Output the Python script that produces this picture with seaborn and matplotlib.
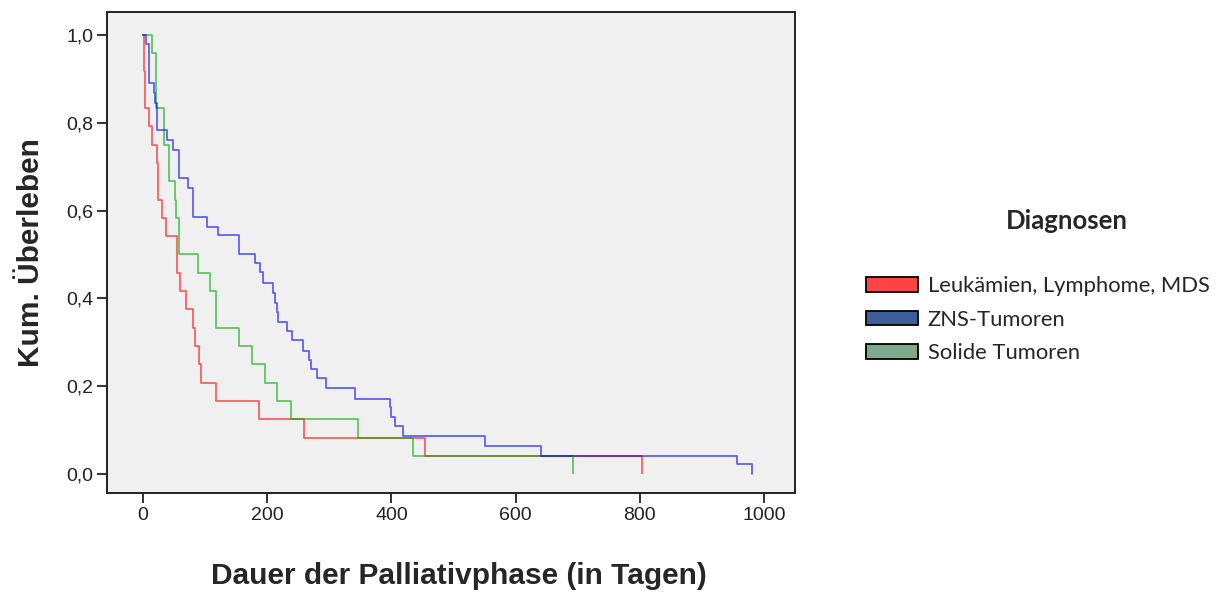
import matplotlib
matplotlib.use("Agg")
import matplotlib.pyplot as plt
from matplotlib.patches import Patch
from matplotlib.ticker import FuncFormatter
import seaborn as sns

# Kaplan-Meier steps (day, cumulative survival)
red_days = [0, 1, 2, 3, 4, 10, 14, 22, 24, 30, 37, 55, 60, 70, 80, 83, 90, 93, 118, 186, 260, 454, 803]
red_surv = [1.0, 0.958, 0.917, 0.875, 0.833, 0.792, 0.75, 0.708, 0.625, 0.583, 0.542, 0.458, 0.417,
            0.375, 0.333, 0.292, 0.25, 0.208, 0.167, 0.125, 0.083, 0.042, 0.042]

green_days = [0, 14, 21, 34, 42, 52, 53, 58, 88, 108, 117, 155, 176, 197, 216, 238, 347, 435, 692]
green_surv = [1.0, 0.958, 0.833, 0.75, 0.667, 0.625, 0.583, 0.5, 0.458, 0.417, 0.333, 0.292, 0.25,
              0.208, 0.167, 0.125, 0.083, 0.042, 0.042]

blue_days = [0, 5, 10, 17, 19, 22, 23, 39, 49, 58, 73, 81, 103, 120, 154, 180, 188, 194, 209, 212,
             215, 218, 232, 240, 258, 267, 270, 280, 295, 342, 398, 400, 406, 419, 550, 641, 956, 980]
blue_surv = [1.0, 0.979, 0.89, 0.868, 0.845, 0.812, 0.784, 0.761, 0.738, 0.674, 0.651, 0.586, 0.563,
             0.544, 0.501, 0.48, 0.459, 0.436, 0.412, 0.39, 0.369, 0.347, 0.326, 0.305, 0.281, 0.26,
             0.239, 0.218, 0.195, 0.172, 0.152, 0.131, 0.109, 0.087, 0.064, 0.041, 0.023, 0.0]

# censored observations (day, level)
red_cens = [(803, 0.042)]
green_cens = [(692, 0.042)]

groups = ["Leukämien, Lymphome, MDS", "ZNS-Tumoren", "Solide Tumoren"]
line_colors = {"red": "#ff0000", "blue": "#0000ff", "green": "#00aa00"}
patch_colors = ["#ff4444", "#3d5e99", "#80a98b"]

sns.set_style("white")
plt.rcParams["font.family"] = ["Liberation Sans", "DejaVu Sans"]

fig = plt.figure(figsize=(12.29, 5.94), dpi=100)
ax = fig.add_axes([107 / 1229, 101 / 594, 688 / 1229, 481 / 594])
ax.set_facecolor("#f0f0f0")

alpha = 0.6
lw = 1.3
sns.lineplot(x=red_days, y=red_surv, drawstyle="steps-post", estimator=None, sort=False,
             color=line_colors["red"], alpha=alpha, lw=lw, ax=ax)
sns.lineplot(x=green_days, y=green_surv, drawstyle="steps-post", estimator=None, sort=False,
             color=line_colors["green"], alpha=alpha, lw=lw, ax=ax)
sns.lineplot(x=blue_days, y=blue_surv, drawstyle="steps-post", estimator=None, sort=False,
             color=line_colors["blue"], alpha=alpha, lw=lw, ax=ax)

# censor ticks hang down from the curve
for (t, s) in red_cens:
    ax.vlines(t, s - 0.041, s, color=line_colors["red"], alpha=alpha, lw=lw)
for (t, s) in green_cens:
    ax.vlines(t, s - 0.041, s, color=line_colors["green"], alpha=alpha, lw=lw)

ax.set_xlim(-58, 1050)
ax.set_ylim(-0.043, 1.052)
ax.set_xticks([0, 200, 400, 600, 800, 1000])
ax.set_yticks([0.0, 0.2, 0.4, 0.6, 0.8, 1.0])
ax.yaxis.set_major_formatter(FuncFormatter(lambda v, p: f"{v:.1f}".replace(".", ",")))
ax.tick_params(axis="both", direction="out", length=7, width=1.3, color="#222222",
               labelsize=14, labelcolor="#222222", pad=3, left=True, bottom=True)

for sp in ax.spines.values():
    sp.set_visible(True)
    sp.set_color("#222222")
    sp.set_linewidth(1.4)

ax.set_xlabel("Dauer der Palliativphase (in Tagen)", fontsize=21.5, fontweight="bold")
ax.set_ylabel("Kum. Überleben", fontsize=21.5, fontweight="bold")
ax.xaxis.set_label_coords(0.512, -0.143)
ax.yaxis.set_label_coords(-0.09, 0.5)

# legend
fig.text(1067 / 1229, 1 - 221 / 594, "Diagnosen", ha="center", va="center",
         fontsize=18.5, fontweight="bold", family=["Lato", "DejaVu Sans"])
handles = [Patch(facecolor=fc, edgecolor="black", linewidth=1.3, label=g)
           for fc, g in zip(patch_colors, groups)]
fig.legend(handles=handles, loc="upper left", bbox_to_anchor=(866 / 1229, 1 - 276 / 594),
           frameon=False, prop={"family": ["Lato", "DejaVu Sans"], "size": 15.8},
           handlelength=2.37, handleheight=0.64, handletextpad=0.45, labelspacing=0.62,
           borderaxespad=0, borderpad=0)

fig.savefig("out.png", dpi=100, facecolor="white")
